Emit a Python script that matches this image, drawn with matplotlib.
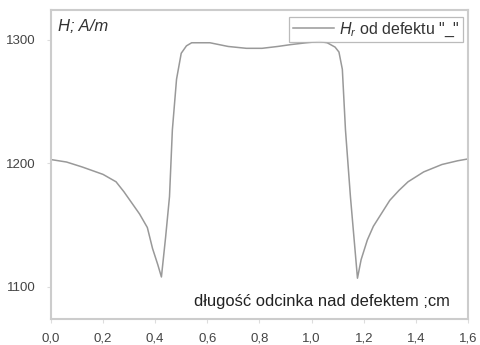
import matplotlib.pyplot as plt
from matplotlib.ticker import FuncFormatter

plt.rcParams['font.family'] = ['Liberation Sans', 'DejaVu Sans']
plt.rcParams['mathtext.fontset'] = 'custom'
plt.rcParams['mathtext.rm'] = 'Liberation Sans'
plt.rcParams['mathtext.it'] = 'Liberation Sans:italic'

# field profile along the segment over the defect
dist = [0.0, 0.06, 0.12, 0.16, 0.20, 0.25, 0.28, 0.31, 0.34, 0.37, 0.39, 0.41,
        0.424, 0.44, 0.455, 0.466, 0.482, 0.50, 0.52, 0.54, 0.61, 0.68, 0.75,
        0.81, 0.87, 0.92, 0.98, 1.03, 1.06, 1.09, 1.105, 1.118, 1.13, 1.149,
        1.165, 1.176, 1.19, 1.214, 1.237, 1.27, 1.30, 1.335, 1.37, 1.43, 1.50,
        1.56, 1.60]
field = [1203, 1201, 1197, 1194, 1191, 1185, 1177, 1168, 1159, 1148, 1131, 1118,
         1108, 1140, 1173, 1227, 1268, 1289, 1295, 1297.5, 1297.5, 1294.5, 1293,
         1293, 1294.5, 1296, 1297.5, 1298.5, 1297.5, 1294, 1290, 1276, 1227, 1173,
         1134, 1107, 1122, 1138, 1149, 1160, 1170, 1178, 1185, 1193, 1199,
         1202, 1203.5]

xticks = [0.0, 0.2, 0.4, 0.6, 0.8, 1.0, 1.2, 1.4, 1.6]
yticks = [1100, 1200, 1300]

fig = plt.figure(figsize=(4.8, 3.45), dpi=100)
ax = fig.add_axes([0.106, 0.0754, 0.869, 0.8956])

ax.plot(dist, field, color='#999999', lw=1.1, label=r'$H_r$ od defektu "_"')

ax.set_xlim(0, 1.6)
ax.set_ylim(1074, 1324)
ax.set_xticks(xticks)
ax.set_yticks(yticks)
ax.xaxis.set_major_formatter(FuncFormatter(lambda v, p: f'{v:.1f}'.replace('.', ',')))

for s in ax.spines.values():
    s.set_color('#cccccc')
    s.set_linewidth(1.5)
ax.tick_params(axis='both', colors='#dddddd', length=3, width=0.8,
               labelcolor='#444444', labelsize=9.5)
ax.tick_params(axis='x', pad=7)
ax.tick_params(axis='y', pad=8)

ax.text(0.017, 0.945, 'H; A/m', transform=ax.transAxes, style='italic',
        fontsize=12, color='#333333', va='center', ha='left')
ax.text(0.957, 0.055, 'długość odcinka nad defektem ;cm', transform=ax.transAxes,
        fontsize=11.9, color='#222222', va='center', ha='right')

leg = ax.legend(loc='upper right', fontsize=11.5, frameon=True, fancybox=False,
                borderpad=0.2, handlelength=2.6, handletextpad=0.3,
                borderaxespad=0, bbox_to_anchor=(0.988, 0.977))
leg.get_frame().set_edgecolor('#aaaaaa')
leg.get_frame().set_linewidth(0.9)
for t in leg.get_texts():
    t.set_color('#333333')

fig.savefig('out.png', dpi=100)
